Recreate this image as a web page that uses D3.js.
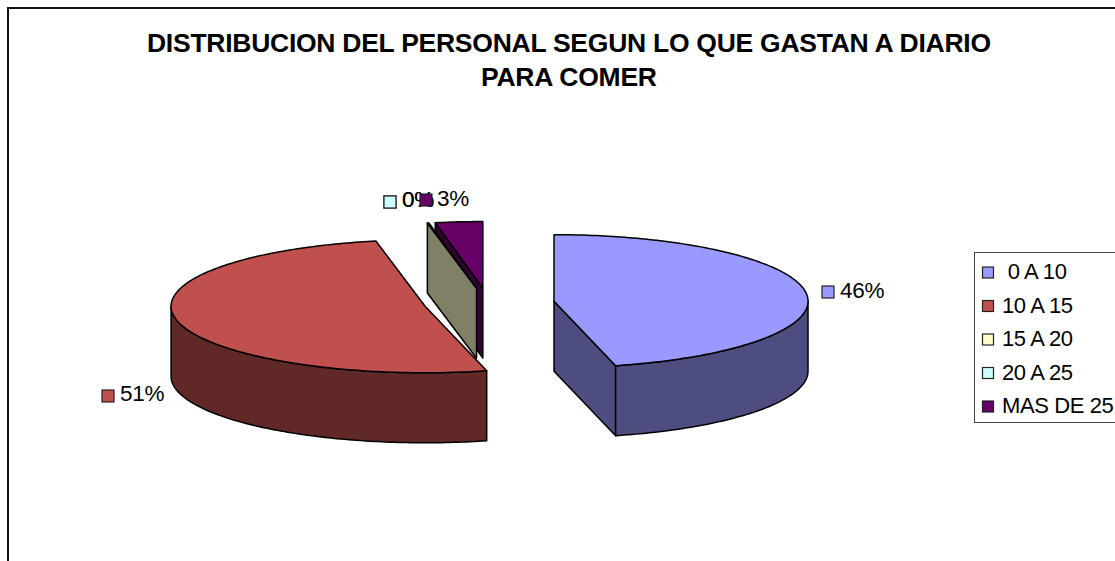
<!DOCTYPE html>
<html><head><meta charset="utf-8">
<script src="https://cdn.jsdelivr.net/npm/d3@7"></script>
<style>html,body{margin:0;padding:0;background:#fff;overflow:hidden}svg{display:block}text{font-family:"Liberation Sans",Arial,sans-serif;fill:#000}</style>
</head><body><svg id="c" width="1115" height="561"></svg>
<script>
const titleLines = ["DISTRIBUCION DEL PERSONAL SEGUN LO QUE GASTAN A DIARIO", "PARA COMER"];
const categories = [" 0 A 10", "10 A 15", "15 A 20", "20 A 25", "MAS DE 25"];
const values = [46.1, 50.8, 0.1, 0.0, 3.0];
const topColors = ["#9999ff", "#c0504d", "#ffffcc", "#ccffff", "#660066"];
const sideColors = ["#4d4d80", "#602826", "#808066", "#668080", "#330033"];

const cx = 489, cy = 303, rx = 254, ry = 66.5, depth = 70, explodeX = 65.5, explodeY = 15;
const svg = d3.select("#c");
svg.append("path").attr("d","M8,561V8H1115").attr("fill","none").attr("stroke","#111").attr("stroke-width",2);

const tw=[844,176], ty=[52,86];
titleLines.forEach((t,i)=>svg.append("text").attr("x",569).attr("y",ty[i]).attr("text-anchor","middle")
  .attr("font-size",26.5).attr("font-weight","bold").attr("textLength",tw[i]).attr("lengthAdjust","spacing").text(t));

const arcs = d3.pie().sort(null).value(d=>d).startAngle(0).endAngle(2*Math.PI)(values);
const line = d3.line();
function geom(a){
  const m=(a.startAngle+a.endAngle)/2;
  const c=[cx+explodeX*Math.sin(m), cy-explodeY*Math.cos(m)];
  const p=t=>[c[0]+rx*Math.sin(t), c[1]-ry*Math.cos(t)];
  return {c,p};
}
const samples=(a,b)=>{const n=Math.max(2,Math.ceil(Math.abs(b-a)*60));return d3.range(n+1).map(i=>a+(b-a)*i/n);};
const g=svg.append("g").attr("stroke","#000").attr("stroke-width",1.5).attr("stroke-linejoin","round");
[4,3,2,1,0].forEach(i=>{
  const a=arcs[i],{c,p}=geom(a);
  const down=q=>[q[0],q[1]+depth];
  const wall=t=>g.append("path").attr("d",line([c,p(t),down(p(t)),down(c)])+"Z").attr("fill",sideColors[i]);
  if(a.value<=0) return;
  if(a.startAngle>Math.PI) wall(a.startAngle);
  if(a.endAngle<Math.PI) wall(a.endAngle);
  const lo=Math.max(a.startAngle,Math.PI/2), hi=Math.min(a.endAngle,3*Math.PI/2);
  if(hi>lo){
    const pts=samples(lo,hi).map(p);
    g.append("path").attr("d",line(pts.concat(pts.map(down).reverse()))+"Z").attr("fill",sideColors[i]);
  }
  g.append("path").attr("d",line([c].concat(samples(a.startAngle,a.endAngle).map(p)))+"Z").attr("fill",topColors[i]);
});

const fmt=d3.format(".0%"), total=d3.sum(values);
const keyAt=[[822,286],[102,390],[384,196],[384,196],[420,194]];
const textAt=[[840,298],[120,401],[402,207],[402,207],[437,206]];
[2,3,0,1,4].forEach(i=>{
  svg.append("text").attr("x",textAt[i][0]).attr("y",textAt[i][1]).attr("font-size",22.5).attr("letter-spacing",-0.3).text(fmt(values[i]/total));
  svg.append("rect").attr("x",keyAt[i][0]).attr("y",keyAt[i][1]).attr("width",12).attr("height",12).attr("fill",topColors[i]).attr("stroke","#222").attr("stroke-width",1.2);
});

svg.append("rect").attr("x",974.5).attr("y",252.5).attr("width",142).attr("height",170).attr("fill","#fff").attr("stroke","#444").attr("stroke-width",1);
const legY=d3.scalePoint().domain(categories).range([272,406]);
categories.forEach((c,i)=>{
  svg.append("rect").attr("x",982.5).attr("y",legY(c)-5).attr("width",11).attr("height",11).attr("fill",topColors[i]).attr("stroke","#222").attr("stroke-width",1.2);
  svg.append("text").attr("x",1002).attr("y",legY(c)+7).attr("font-size",22).attr("letter-spacing",-0.4).style("white-space","pre").text(c);
});
</script></body></html>
